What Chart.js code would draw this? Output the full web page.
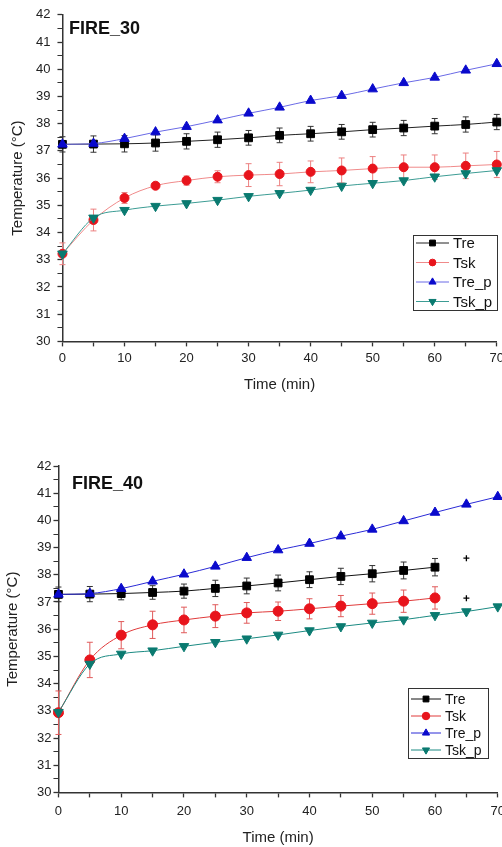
<!DOCTYPE html>
<html>
<head>
<meta charset="utf-8">
<script src="https://cdn.jsdelivr.net/npm/chart.js@4.4.1/dist/chart.umd.min.js"></script>
<style>
  html, body { margin: 0; padding: 0; background: #fff; overflow: hidden; }
  .wrap { position: absolute; left: 0; height: 395px; }
  #top { top: 0; width: 508px; }
  #bottom { top: 452px; width: 511px; }
</style>
</head>
<body>
<div class="wrap" id="top"><canvas id="fire30"></canvas></div>
<div class="wrap" id="bottom"><canvas id="fire40"></canvas></div>
<script>
// time axis (min)
const times = [0, 5, 10, 15, 20, 25, 30, 35, 40, 45, 50, 55, 60, 65, 70];
const times40 = [0, 5, 10, 15, 20, 25, 30, 35, 40, 45, 50, 55, 60];
const seriesNames = ['Tre', 'Tsk', 'Tre_p', 'Tsk_p'];

// FIRE_30
const tre30 = [37.24, 37.25, 37.26, 37.29, 37.35, 37.41, 37.48, 37.57, 37.63, 37.70, 37.78, 37.84, 37.91, 37.97, 38.06];
const tre30Err = [0.28, 0.30, 0.30, 0.30, 0.28, 0.28, 0.27, 0.27, 0.27, 0.27, 0.27, 0.28, 0.28, 0.28, 0.28];
const tsk30 = [33.22, 34.46, 35.27, 35.72, 35.91, 36.05, 36.11, 36.15, 36.23, 36.28, 36.35, 36.40, 36.40, 36.45, 36.50];
const tsk30Err = [0.40, 0.40, 0.20, 0.10, 0.17, 0.22, 0.42, 0.43, 0.40, 0.46, 0.44, 0.45, 0.45, 0.47, 0.48];
const trep30 = [37.24, 37.27, 37.45, 37.69, 37.89, 38.13, 38.38, 38.60, 38.85, 39.03, 39.27, 39.50, 39.70, 39.96, 40.20];
const tskp30 = [33.22, 34.54, 34.82, 34.97, 35.07, 35.19, 35.33, 35.44, 35.56, 35.71, 35.81, 35.91, 36.05, 36.17, 36.28];

// FIRE_40
const tre40 = [37.28, 37.29, 37.31, 37.35, 37.40, 37.50, 37.59, 37.70, 37.82, 37.94, 38.04, 38.16, 38.28];
const tre40Err = [0.27, 0.28, 0.23, 0.25, 0.26, 0.30, 0.29, 0.29, 0.29, 0.30, 0.30, 0.31, 0.32];
const tsk40 = [32.93, 34.87, 35.78, 36.16, 36.34, 36.48, 36.60, 36.66, 36.75, 36.85, 36.94, 37.03, 37.15];
const tsk40Err = [0.80, 0.65, 0.50, 0.50, 0.47, 0.42, 0.38, 0.34, 0.37, 0.39, 0.39, 0.41, 0.41];
const trep40 = [37.28, 37.31, 37.49, 37.76, 38.02, 38.31, 38.63, 38.91, 39.15, 39.42, 39.67, 39.98, 40.29, 40.59, 40.87];
const tskp40 = [32.95, 34.72, 35.09, 35.21, 35.37, 35.52, 35.65, 35.79, 35.95, 36.10, 36.23, 36.35, 36.51, 36.65, 36.83];
const plus40X = [65];
const plus40Tre = [38.61];
const plus40Tsk = [37.14];

const FONT = 'Arial, "Liberation Sans", sans-serif';

function pts(xs, ys) {
  return xs.map((x, i) => ({ x: x, y: ys[i] }));
}

function line(label, xs, ys, o) {
  return {
    label: label,
    data: pts(xs, ys),
    borderColor: o.line,
    backgroundColor: o.marker,
    borderWidth: 1,
    cubicInterpolationMode: 'monotone',
    pointStyle: o.style,
    pointRotation: o.rotation || 0,
    pointRadius: o.radius,
    pointBackgroundColor: o.marker,
    pointBorderColor: o.marker,
    pointBorderWidth: 1,
    clip: false,
    order: o.order,
    errors: o.errors || null,
    errorColor: o.errorColor || o.line
  };
}

function plus(xs, ys) {
  return {
    data: pts(xs, ys),
    showLine: false,
    pointStyle: 'cross',
    pointRadius: 3,
    pointBorderColor: '#000',
    pointBorderWidth: 1.3,
    clip: false,
    order: 0,
    noLegend: true
  };
}

// vertical error bars taken from each dataset's errors array
const errorBars = {
  id: 'errorBars',
  beforeDatasetsDraw(chart) {
    const { ctx } = chart;
    const yScale = chart.scales.y;
    chart.data.datasets.forEach((ds, di) => {
      if (!ds.errors) return;
      const meta = chart.getDatasetMeta(di);
      ctx.save();
      ctx.strokeStyle = ds.errorColor;
      ctx.lineWidth = 1;
      meta.data.forEach((pt, i) => {
        const v = ds.data[i].y;
        const e = ds.errors[i];
        const y1 = yScale.getPixelForValue(v + e);
        const y2 = yScale.getPixelForValue(v - e);
        ctx.beginPath();
        ctx.moveTo(pt.x, y1);
        ctx.lineTo(pt.x, y2);
        ctx.moveTo(pt.x - 3, y1);
        ctx.lineTo(pt.x + 3, y1);
        ctx.moveTo(pt.x - 3, y2);
        ctx.lineTo(pt.x + 3, y2);
        ctx.stroke();
      });
      ctx.restore();
    });
  }
};

// Origin-style framed legend with line + marker samples
const boxLegend = {
  id: 'boxLegend',
  afterDraw(chart, args, opts) {
    const { ctx } = chart;
    ctx.save();
    ctx.fillStyle = '#fff';
    ctx.fillRect(opts.left, opts.top, opts.width, opts.height);
    ctx.strokeStyle = '#333';
    ctx.lineWidth = 1;
    ctx.strokeRect(opts.left + 0.5, opts.top + 0.5, opts.width, opts.height);
    let row = 0;
    chart.data.datasets.forEach(ds => {
      if (ds.noLegend) return;
      const y = opts.top + opts.firstRow + row * opts.rowH;
      const x0 = opts.left + 3;
      const x1 = x0 + opts.sample;
      ctx.strokeStyle = ds.borderColor;
      ctx.lineWidth = 1;
      ctx.beginPath();
      ctx.moveTo(x0, y);
      ctx.lineTo(x1, y);
      ctx.stroke();
      ctx.fillStyle = ds.pointBackgroundColor;
      ctx.strokeStyle = ds.pointBackgroundColor;
      Chart.helpers.drawPoint(ctx, {
        pointStyle: ds.pointStyle,
        rotation: ds.pointRotation,
        radius: ds.pointRadius * 0.75,
        borderWidth: 1
      }, (x0 + x1) / 2, y);
      ctx.fillStyle = '#111';
      ctx.font = opts.fontSize + 'px ' + FONT;
      ctx.textBaseline = 'middle';
      ctx.textAlign = 'left';
      ctx.fillText(ds.label, x1 + 4, y + 1);
      row++;
    });
    ctx.restore();
  }
};

const panelLabel = {
  id: 'panelLabel',
  afterDraw(chart, args, opts) {
    const { ctx } = chart;
    ctx.save();
    ctx.fillStyle = '#111';
    ctx.font = 'bold 18px ' + FONT;
    ctx.textBaseline = 'alphabetic';
    ctx.fillText(opts.text, opts.x, opts.y);
    ctx.restore();
  }
};

function makeChart(canvasId, datasets, cfg) {
  return new Chart(document.getElementById(canvasId), {
    type: 'line',
    data: { datasets: datasets },
    plugins: [errorBars, boxLegend, panelLabel],
    options: {
      responsive: true,
      maintainAspectRatio: false,
      animation: false,
      layout: { padding: { left: 0, right: 0, top: 14, bottom: 0 } },
      plugins: {
        legend: { display: false },
        tooltip: { enabled: false },
        boxLegend: cfg.legend,
        panelLabel: cfg.label
      },
      scales: {
        x: {
          type: 'linear',
          min: 0,
          max: 70,
          border: { color: '#333', width: 1.5 },
          grid: { drawOnChartArea: false, tickLength: 5, tickColor: '#333', tickWidth: 1.3 },
          ticks: {
            stepSize: 5,
            autoSkip: false,
            maxRotation: 0,
            padding: cfg.xPad,
            color: '#222',
            font: { family: FONT, size: 13 },
            callback: v => (v % 10 === 0 ? v : '')
          },
          title: {
            display: true,
            text: 'Time (min)',
            color: '#222',
            font: { family: FONT, size: 15 },
            padding: cfg.xTitlePad
          }
        },
        y: {
          min: 30,
          max: 42,
          border: { color: '#333', width: 1.5 },
          grid: {
            drawOnChartArea: false,
            tickLength: 5,
            tickColor: '#333',
            tickWidth: ctx => (Number.isInteger(ctx.tick.value) ? 1.3 : 1)
          },
          ticks: {
            stepSize: 0.5,
            autoSkip: false,
            padding: cfg.yPad,
            color: '#222',
            font: { family: FONT, size: 13 },
            callback: v => (Number.isInteger(v) ? v : '')
          },
          title: {
            display: true,
            text: 'Temperature (°C)',
            color: '#222',
            font: { family: FONT, size: 15 },
            padding: cfg.yTitlePad
          }
        }
      }
    }
  });
}

makeChart('fire30', [
  line(seriesNames[0], times, tre30, { line: '#222', marker: '#000', style: 'rect', radius: 5.5, order: 4, errors: tre30Err, errorColor: '#333' }),
  line(seriesNames[1], times, tsk30, { line: '#f08a8a', marker: '#e8141c', style: 'circle', radius: 4.5, order: 3, errors: tsk30Err, errorColor: '#ec8080' }),
  line(seriesNames[2], times, trep30, { line: '#6a6ae6', marker: '#0a0acc', style: 'triangle', radius: 5.5, order: 2 }),
  line(seriesNames[3], times, tskp30, { line: '#3c9c94', marker: '#0a7a70', style: 'triangle', rotation: 180, radius: 5.5, order: 1 })
], {
  xPad: 4,
  xTitlePad: { top: 6, bottom: 1 },
  yPad: 7,
  yTitlePad: { top: 9, bottom: 2 },
  legend: { left: 413, top: 235, width: 84, height: 75, firstRow: 8, rowH: 19.5, sample: 33, fontSize: 15 },
  label: { text: 'FIRE_30', x: 69, y: 34 }
});

makeChart('fire40', [
  line(seriesNames[0], times40, tre40, { line: '#111', marker: '#000', style: 'rect', radius: 5.5, order: 4, errors: tre40Err, errorColor: '#333' }),
  line(seriesNames[1], times40, tsk40, { line: '#e03a3a', marker: '#e8141c', style: 'circle', radius: 5, order: 3, errors: tsk40Err, errorColor: '#e05a5a' }),
  line(seriesNames[2], times, trep40, { line: '#2a2ad6', marker: '#0a0acc', style: 'triangle', radius: 5.5, order: 2 }),
  line(seriesNames[3], times, tskp40, { line: '#1a8a82', marker: '#0a7a70', style: 'triangle', rotation: 180, radius: 5.5, order: 1 }),
  plus(plus40X, plus40Tre),
  plus(plus40X, plus40Tsk)
], {
  xPad: 6,
  xTitlePad: { top: 4, bottom: 0 },
  yPad: 2,
  yTitlePad: { top: 4, bottom: 13 },
  legend: { left: 408, top: 236, width: 80, height: 70, firstRow: 11, rowH: 17, sample: 30, fontSize: 14 },
  label: { text: 'FIRE_40', x: 72, y: 37 }
});
</script>
</body>
</html>
